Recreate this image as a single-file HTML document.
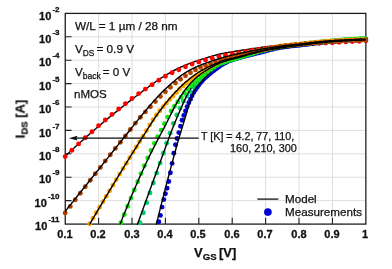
<!DOCTYPE html>
<html><head><meta charset="utf-8"><title>IDS-VGS</title><style>
html,body{margin:0;padding:0;background:#fff;}
body{width:392px;height:269px;position:relative;overflow:hidden;font-family:"Liberation Sans",sans-serif;color:#111;}
.t{position:absolute;white-space:nowrap;line-height:1;will-change:transform;-webkit-text-stroke:0.25px #111;}
.yt{-webkit-text-stroke:0.3px #111;font-weight:bold;font-size:11px;text-align:right;width:59.5px;left:0;}
.yt sup{font-size:8px;margin-left:1.1px;position:relative;top:-8.1px;vertical-align:baseline;line-height:0;}
.xt{-webkit-text-stroke:0.3px #111;font-weight:bold;font-size:11px;width:40px;text-align:center;top:229px;margin-left:-0.5px;}
.an{font-size:11.75px;left:74.5px;}
sub.s{font-size:8.3px;margin-right:-1.2px;position:relative;top:2.8px;vertical-align:baseline;line-height:0;}
</style></head><body>
<svg width="392" height="269" viewBox="0 0 392 269" style="position:absolute;left:0;top:0">
<defs><clipPath id="c"><rect x="65.0" y="13.4" width="301.2" height="211.1"/></clipPath><clipPath id="chi"><rect x="65.2" y="13.4" width="300.6" height="85.6"/></clipPath><clipPath id="clo"><rect x="65.2" y="99" width="300.6" height="125.7"/></clipPath></defs>
<path d="M98.6,13.4V224.05M132.0,13.4V224.05M165.4,13.4V224.05M198.8,13.4V224.05M232.2,13.4V224.05M265.6,13.4V224.05M299.0,13.4V224.05M332.4,13.4V224.05M65.25,36.8H365.8M65.25,60.2H365.8M65.25,83.6H365.8M65.25,107.0H365.8M65.25,130.4H365.8M65.25,153.8H365.8M65.25,177.2H365.8M65.25,200.6H365.8" stroke="#dedede" stroke-width="1" fill="none"/>
<path d="M98.6,224.05v-6.3M132.0,224.05v-6.3M165.4,224.05v-6.3M198.8,224.05v-6.3M232.2,224.05v-6.3M265.6,224.05v-6.3M299.0,224.05v-6.3M332.4,224.05v-6.3M65.25,36.8h6.3M65.25,60.2h6.3M65.25,83.6h6.3M65.25,107.0h6.3M65.25,130.4h6.3M65.25,153.8h6.3M65.25,177.2h6.3M65.25,200.6h6.3" stroke="#222" stroke-width="1.1" fill="none"/>
<rect x="65.25" y="13.4" width="300.6" height="210.7" fill="none" stroke="#1e1e1e" stroke-width="1.3"/>
<g fill="none" stroke="#000" stroke-width="1.4" stroke-linejoin="round">
<path d="M64.0,157.4 65.0,156.5 66.0,155.5 67.0,154.6 68.0,153.6 69.0,152.7 70.0,151.8 71.0,150.8 72.0,149.9 73.0,149.0 74.0,148.1 75.0,147.1 76.0,146.2 77.0,145.3 78.0,144.4 79.0,143.5 80.0,142.6 81.0,141.7 82.0,140.8 83.0,139.9 84.0,139.0 85.0,138.1 86.0,137.2 87.0,136.3 88.0,135.4 89.0,134.6 90.0,133.7 91.0,132.8 92.0,131.9 93.0,131.1 94.0,130.2 95.0,129.3 96.0,128.5 97.0,127.6 98.0,126.8 99.0,125.9 100.0,125.1 101.0,124.2 102.0,123.4 103.0,122.5 104.0,121.7 105.0,120.9 106.0,120.0 107.0,119.2 108.0,118.4 109.0,117.6 110.0,116.8 111.0,115.9 112.0,115.1 113.0,114.3 114.0,113.5 115.0,112.7 116.0,111.9 117.0,111.1 118.0,110.3 119.0,109.5 120.0,108.7 121.0,107.9 122.0,107.1 123.0,106.3 124.0,105.6 125.0,104.8 126.0,104.0 127.0,103.2 128.0,102.4 129.0,101.6 130.0,100.9 131.0,100.1 132.0,99.3 133.0,98.5 134.0,97.8 135.0,97.0 136.0,96.2 137.0,95.5 138.0,94.7 139.0,93.9 140.0,93.2 141.0,92.4 142.0,91.7 143.0,90.9 144.0,90.2 145.0,89.5 146.0,88.7 147.0,88.0 148.0,87.3 149.0,86.6 150.0,85.8 151.0,85.1 152.0,84.4 153.0,83.7 154.0,83.0 155.0,82.2 156.0,81.5 157.0,80.8 158.0,80.2 159.0,79.5 160.0,78.8 161.0,78.1 162.0,77.5 163.0,76.9 164.0,76.2 165.0,75.6 166.0,75.0 167.0,74.4 168.0,73.9 169.0,73.3 170.0,72.7 171.0,72.1 172.0,71.6 173.0,71.0 174.0,70.5 175.0,70.0 176.0,69.5 177.0,69.0 178.0,68.5 179.0,68.0 180.0,67.5 181.0,67.0 182.0,66.6 183.0,66.2 184.0,65.7 185.0,65.3 186.0,64.9 187.0,64.5 188.0,64.1 189.0,63.7 190.0,63.3 191.0,63.0 192.0,62.6 193.0,62.2 194.0,61.9 195.0,61.5 196.0,61.2 197.0,60.9 198.0,60.5 199.0,60.2 200.0,59.9 201.0,59.5 202.0,59.2 203.0,58.9 204.0,58.6 205.0,58.3 206.0,57.9 207.0,57.6 208.0,57.3 209.0,57.0 210.0,56.7 211.0,56.4 212.0,56.1 213.0,55.8 214.0,55.6 215.0,55.3 216.0,55.0 217.0,54.8 218.0,54.5 219.0,54.3 220.0,54.0 221.0,53.8 222.0,53.6 223.0,53.4 224.0,53.2 225.0,53.0 226.0,52.8 227.0,52.6 228.0,52.5 229.0,52.3 230.0,52.1 231.0,52.0 232.0,51.8 233.0,51.6 234.0,51.5 235.0,51.3 236.0,51.2 237.0,51.0 238.0,50.8 239.0,50.7 240.0,50.5 241.0,50.4 242.0,50.2 243.0,50.0 244.0,49.9 245.0,49.7 246.0,49.6 247.0,49.4 248.0,49.3 249.0,49.1 250.0,49.0 251.0,48.8 252.0,48.7 253.0,48.5 254.0,48.4 255.0,48.3 256.0,48.1 257.0,48.0 258.0,47.8 259.0,47.7 260.0,47.6 261.0,47.4 262.0,47.3 263.0,47.2 264.0,47.0 265.0,46.9 266.0,46.8 267.0,46.7 268.0,46.5 269.0,46.4 270.0,46.3 271.0,46.2 272.0,46.1 273.0,45.9 274.0,45.8 275.0,45.7 276.0,45.6 277.0,45.5 278.0,45.4 279.0,45.3 280.0,45.2 281.0,45.1 282.0,45.0 283.0,44.9 284.0,44.8 285.0,44.7 286.0,44.6 287.0,44.5 288.0,44.4 289.0,44.3 290.0,44.2 291.0,44.1 292.0,44.0 293.0,43.9 294.0,43.8 295.0,43.7 296.0,43.6 297.0,43.5 298.0,43.4 299.0,43.3 300.0,43.2 301.0,43.1 302.0,43.0 303.0,42.9 304.0,42.8 305.0,42.7 306.0,42.6 307.0,42.5 308.0,42.4 309.0,42.3 310.0,42.2 311.0,42.1 312.0,42.0 313.0,41.9 314.0,41.8 315.0,41.7 316.0,41.5 317.0,41.4 318.0,41.3 319.0,41.2 320.0,41.1 321.0,41.1 322.0,41.0 323.0,40.9 324.0,40.8 325.0,40.7 326.0,40.6 327.0,40.5 328.0,40.5 329.0,40.4 330.0,40.3 331.0,40.2 332.0,40.2 333.0,40.1 334.0,40.1 335.0,40.0 336.0,39.9 337.0,39.9 338.0,39.8 339.0,39.8 340.0,39.7 341.0,39.7 342.0,39.6 343.0,39.6 344.0,39.5 345.0,39.5 346.0,39.5 347.0,39.4 348.0,39.4 349.0,39.3 350.0,39.3 351.0,39.2 352.0,39.2 353.0,39.1 354.0,39.1 355.0,39.0 356.0,39.0 357.0,39.0 358.0,38.9 359.0,38.9 360.0,38.8 361.0,38.8 362.0,38.7 363.0,38.7 364.0,38.7 365.0,38.6" clip-path="url(#c)"/>
<g fill="#ff0000" stroke="none"><circle cx="65.2" cy="156.6" r="2.45"/><circle cx="71.9" cy="150.2" r="2.45"/><circle cx="78.6" cy="143.9" r="2.45"/><circle cx="85.3" cy="137.7" r="2.45"/><circle cx="92.0" cy="131.7" r="2.45"/><circle cx="98.6" cy="125.8" r="2.45"/><circle cx="105.3" cy="120.0" r="2.45"/><circle cx="112.0" cy="114.4" r="2.45"/><circle cx="118.7" cy="109.0" r="2.45"/><circle cx="125.4" cy="103.7" r="2.45"/><circle cx="132.0" cy="98.5" r="2.45"/><circle cx="138.7" cy="93.6" r="2.45"/><circle cx="145.4" cy="89.1" r="2.45"/><circle cx="152.1" cy="84.8" r="2.45"/><circle cx="158.8" cy="80.3" r="2.45"/><circle cx="165.4" cy="76.2" r="2.45"/><circle cx="172.1" cy="72.7" r="2.45"/><circle cx="178.8" cy="69.7" r="2.45"/><circle cx="185.5" cy="66.8" r="2.45"/><circle cx="192.1" cy="64.1" r="2.45"/><circle cx="198.8" cy="61.9" r="2.45"/><circle cx="205.5" cy="59.9" r="2.45"/><circle cx="212.2" cy="58.2" r="2.45"/><circle cx="218.9" cy="56.6" r="2.45"/><circle cx="225.5" cy="55.1" r="2.45"/><circle cx="232.2" cy="53.8" r="2.45"/><circle cx="238.9" cy="52.6" r="2.45"/><circle cx="245.6" cy="51.4" r="2.45"/><circle cx="252.3" cy="50.3" r="2.45"/><circle cx="258.9" cy="49.3" r="2.45"/><circle cx="265.6" cy="48.4" r="2.45"/><circle cx="272.3" cy="47.5" r="2.45"/><circle cx="279.0" cy="46.7" r="2.45"/><circle cx="285.7" cy="45.9" r="2.45"/><circle cx="292.3" cy="45.1" r="2.45"/><circle cx="299.0" cy="44.5" r="2.45"/><circle cx="305.7" cy="44.0" r="2.45"/><circle cx="312.4" cy="43.7" r="2.45"/><circle cx="319.0" cy="43.4" r="2.45"/><circle cx="325.7" cy="43.0" r="2.45"/><circle cx="332.4" cy="42.7" r="2.45"/><circle cx="339.1" cy="42.3" r="2.45"/><circle cx="345.8" cy="41.9" r="2.45"/><circle cx="352.4" cy="41.6" r="2.45"/><circle cx="359.1" cy="41.2" r="2.45"/><circle cx="365.8" cy="40.8" r="2.45"/></g>
<g fill="#0000d2" stroke="none"><circle cx="158.8" cy="221.7" r="2.45"/><circle cx="160.4" cy="215.4" r="2.45"/><circle cx="162.1" cy="207.1" r="2.45"/><circle cx="163.8" cy="199.6" r="2.45"/><circle cx="165.4" cy="193.7" r="2.45"/><circle cx="167.1" cy="188.2" r="2.45"/><circle cx="168.8" cy="181.5" r="2.45"/><circle cx="170.4" cy="172.8" r="2.45"/><circle cx="172.1" cy="163.4" r="2.45"/><circle cx="173.8" cy="153.3" r="2.45"/><circle cx="175.5" cy="144.7" r="2.45"/><circle cx="177.1" cy="138.5" r="2.45"/><circle cx="178.8" cy="132.6" r="2.45"/><circle cx="180.5" cy="126.2" r="2.45"/><circle cx="182.1" cy="120.3" r="2.45"/><circle cx="183.8" cy="115.4" r="2.45"/><circle cx="185.5" cy="111.0" r="2.45"/><circle cx="187.1" cy="106.8" r="2.45"/><circle cx="188.8" cy="102.8" r="2.45"/><circle cx="190.5" cy="99.2" r="2.45"/><circle cx="192.1" cy="95.8" r="2.45"/><circle cx="193.8" cy="92.6" r="2.45"/><circle cx="195.5" cy="89.8" r="2.45"/><circle cx="197.2" cy="87.3" r="2.45"/><circle cx="198.8" cy="84.9" r="2.45"/><circle cx="200.5" cy="82.8" r="2.45"/><circle cx="202.2" cy="80.9" r="2.45"/><circle cx="203.8" cy="79.1" r="2.45"/><circle cx="205.5" cy="77.5" r="2.45"/><circle cx="207.2" cy="76.0" r="2.45"/><circle cx="208.8" cy="74.6" r="2.45"/><circle cx="210.5" cy="73.2" r="2.45"/><circle cx="212.2" cy="71.8" r="2.45"/><circle cx="213.9" cy="70.5" r="2.45"/><circle cx="215.5" cy="69.3" r="2.45"/><circle cx="217.2" cy="68.0" r="2.45"/><circle cx="218.9" cy="66.8" r="2.45"/><circle cx="220.5" cy="65.6" r="2.45"/><circle cx="222.2" cy="64.5" r="2.45"/><circle cx="223.9" cy="63.6" r="2.45"/><circle cx="225.5" cy="62.7" r="2.45"/><circle cx="227.2" cy="61.9" r="2.45"/><circle cx="228.9" cy="61.1" r="2.45"/><circle cx="230.6" cy="60.5" r="2.45"/><circle cx="232.2" cy="59.9" r="2.45"/><circle cx="233.9" cy="59.3" r="2.45"/><circle cx="235.6" cy="58.8" r="2.45"/><circle cx="237.2" cy="58.3" r="2.45"/><circle cx="238.9" cy="57.9" r="2.45"/><circle cx="240.6" cy="57.4" r="2.45"/><circle cx="242.2" cy="56.9" r="2.45"/><circle cx="243.9" cy="56.5" r="2.45"/><circle cx="245.6" cy="56.0" r="2.45"/><circle cx="247.2" cy="55.6" r="2.45"/><circle cx="248.9" cy="55.2" r="2.45"/><circle cx="250.6" cy="54.8" r="2.45"/><circle cx="252.3" cy="54.4" r="2.45"/><circle cx="253.9" cy="53.9" r="2.45"/><circle cx="255.6" cy="53.5" r="2.45"/><circle cx="257.3" cy="53.1" r="2.45"/><circle cx="258.9" cy="52.7" r="2.45"/><circle cx="260.6" cy="52.3" r="2.45"/><circle cx="262.3" cy="51.9" r="2.45"/><circle cx="263.9" cy="51.5" r="2.45"/><circle cx="265.6" cy="51.0" r="2.45"/><circle cx="267.3" cy="50.6" r="2.45"/><circle cx="269.0" cy="50.1" r="2.45"/><circle cx="270.6" cy="49.6" r="2.45"/><circle cx="272.3" cy="49.2" r="2.45"/><circle cx="274.0" cy="48.8" r="2.45"/><circle cx="275.6" cy="48.4" r="2.45"/><circle cx="277.3" cy="48.0" r="2.45"/><circle cx="279.0" cy="47.7" r="2.45"/><circle cx="280.6" cy="47.4" r="2.45"/><circle cx="282.3" cy="47.2" r="2.45"/><circle cx="284.0" cy="46.9" r="2.45"/><circle cx="285.7" cy="46.7" r="2.45"/><circle cx="287.3" cy="46.5" r="2.45"/><circle cx="289.0" cy="46.3" r="2.45"/><circle cx="290.7" cy="46.1" r="2.45"/><circle cx="292.3" cy="45.9" r="2.45"/><circle cx="294.0" cy="45.8" r="2.45"/><circle cx="295.7" cy="45.6" r="2.45"/><circle cx="297.3" cy="45.4" r="2.45"/><circle cx="299.0" cy="45.2" r="2.45"/><circle cx="300.7" cy="45.0" r="2.45"/><circle cx="302.4" cy="44.8" r="2.45"/><circle cx="304.0" cy="44.6" r="2.45"/><circle cx="305.7" cy="44.4" r="2.45"/><circle cx="307.4" cy="44.2" r="2.45"/><circle cx="309.0" cy="44.0" r="2.45"/><circle cx="310.7" cy="43.7" r="2.45"/><circle cx="312.4" cy="43.5" r="2.45"/><circle cx="314.0" cy="43.3" r="2.45"/><circle cx="315.7" cy="43.1" r="2.45"/><circle cx="317.4" cy="42.9" r="2.45"/><circle cx="319.0" cy="42.7" r="2.45"/><circle cx="320.7" cy="42.5" r="2.45"/><circle cx="322.4" cy="42.3" r="2.45"/><circle cx="324.1" cy="42.1" r="2.45"/><circle cx="325.7" cy="41.9" r="2.45"/><circle cx="327.4" cy="41.7" r="2.45"/><circle cx="329.1" cy="41.6" r="2.45"/><circle cx="330.7" cy="41.4" r="2.45"/><circle cx="332.4" cy="41.3" r="2.45"/><circle cx="334.1" cy="41.2" r="2.45"/><circle cx="335.7" cy="41.0" r="2.45"/><circle cx="337.4" cy="40.9" r="2.45"/><circle cx="339.1" cy="40.8" r="2.45"/><circle cx="340.8" cy="40.7" r="2.45"/><circle cx="342.4" cy="40.6" r="2.45"/><circle cx="344.1" cy="40.5" r="2.45"/><circle cx="345.8" cy="40.3" r="2.45"/><circle cx="347.4" cy="40.2" r="2.45"/><circle cx="349.1" cy="40.1" r="2.45"/><circle cx="350.8" cy="40.0" r="2.45"/><circle cx="352.4" cy="39.9" r="2.45"/><circle cx="354.1" cy="39.8" r="2.45"/><circle cx="355.8" cy="39.7" r="2.45"/><circle cx="357.5" cy="39.6" r="2.45"/><circle cx="359.1" cy="39.5" r="2.45"/><circle cx="360.8" cy="39.4" r="2.45"/><circle cx="362.5" cy="39.3" r="2.45"/><circle cx="364.1" cy="39.2" r="2.45"/><circle cx="365.8" cy="39.1" r="2.45"/></g>
<g fill="#00d26e" stroke="none"><circle cx="140.0" cy="222.7" r="2.45"/><circle cx="143.4" cy="212.8" r="2.45"/><circle cx="146.7" cy="202.8" r="2.45"/><circle cx="150.0" cy="192.9" r="2.45"/><circle cx="153.4" cy="183.0" r="2.45"/><circle cx="156.7" cy="173.1" r="2.45"/><circle cx="160.1" cy="163.1" r="2.45"/><circle cx="163.4" cy="153.2" r="2.45"/><circle cx="166.7" cy="143.3" r="2.45"/><circle cx="170.1" cy="133.3" r="2.45"/><circle cx="173.4" cy="123.5" r="2.45"/><circle cx="176.8" cy="115.0" r="2.45"/><circle cx="180.1" cy="108.1" r="2.45"/><circle cx="183.4" cy="101.2" r="2.45"/><circle cx="186.8" cy="96.0" r="2.45"/><circle cx="190.1" cy="91.5" r="2.45"/><circle cx="193.4" cy="87.1" r="2.45"/><circle cx="196.8" cy="83.7" r="2.45"/><circle cx="200.1" cy="80.2" r="2.45"/><circle cx="203.5" cy="77.0" r="2.45"/><circle cx="206.8" cy="73.6" r="2.45"/><circle cx="210.1" cy="70.5" r="2.45"/><circle cx="213.5" cy="67.8" r="2.45"/><circle cx="216.8" cy="65.5" r="2.45"/><circle cx="220.2" cy="63.8" r="2.45"/><circle cx="223.5" cy="62.5" r="2.45"/><circle cx="226.8" cy="61.4" r="2.45"/><circle cx="230.2" cy="60.3" r="2.45"/><circle cx="233.5" cy="59.3" r="2.45"/><circle cx="236.9" cy="58.3" r="2.45"/><circle cx="240.2" cy="57.3" r="2.45"/><circle cx="243.5" cy="56.3" r="2.45"/><circle cx="246.9" cy="55.2" r="2.45"/><circle cx="250.2" cy="54.2" r="2.45"/><circle cx="253.6" cy="53.2" r="2.45"/><circle cx="256.9" cy="52.2" r="2.45"/><circle cx="260.2" cy="51.3" r="2.45"/><circle cx="263.6" cy="50.5" r="2.45"/><circle cx="266.9" cy="49.7" r="2.45"/><circle cx="270.3" cy="48.9" r="2.45"/><circle cx="273.6" cy="48.2" r="2.45"/><circle cx="276.9" cy="47.5" r="2.45"/><circle cx="280.3" cy="47.0" r="2.45"/><circle cx="283.6" cy="46.4" r="2.45"/><circle cx="287.0" cy="46.0" r="2.45"/><circle cx="290.3" cy="45.6" r="2.45"/><circle cx="293.6" cy="45.1" r="2.45"/><circle cx="297.0" cy="44.8" r="2.45"/><circle cx="300.3" cy="44.4" r="2.45"/><circle cx="303.7" cy="44.0" r="2.45"/><circle cx="307.0" cy="43.6" r="2.45"/><circle cx="310.3" cy="43.2" r="2.45"/><circle cx="313.7" cy="42.9" r="2.45"/><circle cx="317.0" cy="42.5" r="2.45"/><circle cx="320.3" cy="42.2" r="2.45"/><circle cx="323.7" cy="41.8" r="2.45"/><circle cx="327.0" cy="41.5" r="2.45"/><circle cx="330.4" cy="41.2" r="2.45"/><circle cx="333.7" cy="40.9" r="2.45"/><circle cx="337.0" cy="40.5" r="2.45"/><circle cx="340.4" cy="40.3" r="2.45"/><circle cx="343.7" cy="40.0" r="2.45"/><circle cx="347.1" cy="39.8" r="2.45"/><circle cx="350.4" cy="39.5" r="2.45"/><circle cx="353.7" cy="39.3" r="2.45"/><circle cx="357.1" cy="39.1" r="2.45"/><circle cx="360.4" cy="38.9" r="2.45"/><circle cx="363.8" cy="38.7" r="2.45"/></g>
<path d="M155.0,229.8 156.0,225.7 157.0,221.7 158.0,217.6 159.0,213.6 160.0,209.7 161.0,205.7 162.0,201.7 163.0,197.8 164.0,193.9 165.0,190.1 166.0,186.2 167.0,182.4 168.0,178.5 169.0,174.7 170.0,170.9 171.0,167.1 172.0,163.4 173.0,159.6 174.0,155.9 175.0,152.2 176.0,148.5 177.0,144.9 178.0,141.4 179.0,138.0 180.0,134.6 181.0,131.4 182.0,128.1 183.0,124.9 184.0,121.6 185.0,118.2 186.0,114.8 187.0,111.4 188.0,108.1 189.0,104.9 190.0,101.8 191.0,98.8 192.0,96.0 193.0,93.5 194.0,91.3 195.0,89.5 196.0,87.9 197.0,86.6 198.0,85.4 199.0,84.3 200.0,83.3 201.0,82.1 202.0,81.0 203.0,79.9 204.0,78.8 205.0,77.7 206.0,76.6 207.0,75.6 208.0,74.5 209.0,73.6 210.0,72.6 211.0,71.7 212.0,70.7 213.0,69.8 214.0,69.0 215.0,68.1 216.0,67.4 217.0,66.7 218.0,66.0 219.0,65.4 220.0,64.9 221.0,64.4 222.0,63.9 223.0,63.4 224.0,63.0 225.0,62.6 226.0,62.3 227.0,61.9 228.0,61.6 229.0,61.3 230.0,61.0 231.0,60.8 232.0,60.5 233.0,60.3 234.0,60.0 235.0,59.7 236.0,59.5 237.0,59.2 238.0,58.9 239.0,58.6 240.0,58.3 241.0,58.0 242.0,57.7 243.0,57.4 244.0,57.1 245.0,56.8 246.0,56.5 247.0,56.2 248.0,55.9 249.0,55.6 250.0,55.3 251.0,55.0 252.0,54.7 253.0,54.4 254.0,54.1 255.0,53.8 256.0,53.5 257.0,53.2 258.0,53.0 259.0,52.7 260.0,52.5 261.0,52.2 262.0,52.0 263.0,51.8 264.0,51.6 265.0,51.4 266.0,51.1 267.0,50.9 268.0,50.7 269.0,50.5 270.0,50.3 271.0,50.1 272.0,50.0 273.0,49.8 274.0,49.6 275.0,49.4 276.0,49.2 277.0,49.1 278.0,48.9 279.0,48.8 280.0,48.6 281.0,48.4 282.0,48.3 283.0,48.2 284.0,48.0 285.0,47.9 286.0,47.7 287.0,47.6 288.0,47.5 289.0,47.3 290.0,47.2 291.0,47.1 292.0,47.0 293.0,46.8 294.0,46.7 295.0,46.6 296.0,46.5 297.0,46.4 298.0,46.2 299.0,46.1 300.0,46.0 301.0,45.9 302.0,45.8 303.0,45.6 304.0,45.5 305.0,45.4 306.0,45.3 307.0,45.2 308.0,45.0 309.0,44.9 310.0,44.8 311.0,44.7 312.0,44.6 313.0,44.5 314.0,44.3 315.0,44.2 316.0,44.1 317.0,44.0 318.0,43.9 319.0,43.8 320.0,43.7 321.0,43.6 322.0,43.5 323.0,43.4 324.0,43.3 325.0,43.2 326.0,43.1 327.0,43.0 328.0,42.9 329.0,42.8 330.0,42.7 331.0,42.6 332.0,42.5 333.0,42.4 334.0,42.4 335.0,42.3 336.0,42.2 337.0,42.1 338.0,42.0 339.0,42.0 340.0,41.9 341.0,41.8 342.0,41.8 343.0,41.7 344.0,41.7 345.0,41.6 346.0,41.5 347.0,41.5 348.0,41.4 349.0,41.4 350.0,41.4 351.0,41.3 352.0,41.3 353.0,41.2 354.0,41.2 355.0,41.1 356.0,41.1 357.0,41.1 358.0,41.0 359.0,41.0 360.0,40.9 361.0,40.9 362.0,40.9 363.0,40.9 364.0,40.8 365.0,40.8" clip-path="url(#c)"/>
<path d="M136.2,227.9 137.2,225.1 138.2,222.3 139.2,219.5 140.2,216.8 141.2,214.0 142.2,211.2 143.2,208.5 144.2,205.7 145.2,202.9 146.2,200.2 147.2,197.4 148.2,194.7 149.2,191.9 150.2,189.2 151.2,186.5 152.2,183.7 153.2,181.0 154.2,178.2 155.2,175.5 156.2,172.8 157.2,170.1 158.2,167.3 159.2,164.6 160.2,161.9 161.2,159.2 162.2,156.5 163.2,153.7 164.2,150.9 165.2,148.2 166.2,145.4 167.2,142.7 168.2,139.9 169.2,137.2 170.2,134.5 171.2,131.9 172.2,129.3 173.2,126.8 174.2,124.3 175.2,121.8 176.2,119.4 177.2,117.0 178.2,114.7 179.2,112.4 180.2,110.1 181.2,107.8 182.2,105.6 183.2,103.3 184.2,101.1 185.2,98.9 186.2,96.7 187.2,94.7 188.2,92.8 189.2,91.0 190.2,89.4 191.2,87.9 192.2,86.5 193.2,85.3 194.2,84.1 195.2,83.0 196.2,82.0 197.2,80.9 198.2,80.0 199.2,79.0 200.2,78.1 201.2,77.3 202.2,76.5 203.2,75.6 204.2,74.8 205.2,74.0 206.2,73.2 207.2,72.4 208.2,71.6 209.2,70.8 210.2,70.1 211.2,69.3 212.2,68.5 213.2,67.8 214.2,67.1 215.2,66.4 216.2,65.7 217.2,65.1 218.2,64.5 219.2,64.0 220.2,63.5 221.2,63.0 222.2,62.6 223.2,62.2 224.2,61.8 225.2,61.5 226.2,61.1 227.2,60.8 228.2,60.5 229.2,60.3 230.2,60.0 231.2,59.8 232.2,59.5 233.2,59.3 234.2,59.0 235.2,58.8 236.2,58.5 237.2,58.3 238.2,58.0 239.2,57.7 240.2,57.5 241.2,57.2 242.2,56.9 243.2,56.6 244.2,56.3 245.2,56.1 246.2,55.8 247.2,55.5 248.2,55.2 249.2,54.9 250.2,54.7 251.2,54.4 252.2,54.1 253.2,53.8 254.2,53.6 255.2,53.3 256.2,53.1 257.2,52.8 258.2,52.5 259.2,52.3 260.2,52.1 261.2,51.8 262.2,51.6 263.2,51.4 264.2,51.2 265.2,51.0 266.2,50.8 267.2,50.5 268.2,50.3 269.2,50.1 270.2,49.9 271.2,49.7 272.2,49.6 273.2,49.4 274.2,49.2 275.2,49.0 276.2,48.8 277.2,48.7 278.2,48.5 279.2,48.3 280.2,48.2 281.2,48.0 282.2,47.9 283.2,47.7 284.2,47.6 285.2,47.4 286.2,47.3 287.2,47.2 288.2,47.0 289.2,46.9 290.2,46.8 291.2,46.7 292.2,46.5 293.2,46.4 294.2,46.3 295.2,46.2 296.2,46.1 297.2,45.9 298.2,45.8 299.2,45.7 300.2,45.6 301.2,45.5 302.2,45.3 303.2,45.2 304.2,45.1 305.2,45.0 306.2,44.8 307.2,44.7 308.2,44.6 309.2,44.5 310.2,44.3 311.2,44.2 312.2,44.1 313.2,44.0 314.2,43.8 315.2,43.7 316.2,43.6 317.2,43.5 318.2,43.4 319.2,43.3 320.2,43.2 321.2,43.0 322.2,42.9 323.2,42.8 324.2,42.7 325.2,42.6 326.2,42.5 327.2,42.4 328.2,42.4 329.2,42.3 330.2,42.2 331.2,42.1 332.2,42.0 333.2,41.9 334.2,41.9 335.2,41.8 336.2,41.7 337.2,41.7 338.2,41.6 339.2,41.5 340.2,41.5 341.2,41.4 342.2,41.4 343.2,41.3 344.2,41.2 345.2,41.2 346.2,41.1 347.2,41.1 348.2,41.0 349.2,41.0 350.2,40.9 351.2,40.9 352.2,40.8 353.2,40.8 354.2,40.7 355.2,40.7 356.2,40.7 357.2,40.6 358.2,40.6 359.2,40.5 360.2,40.5 361.2,40.5 362.2,40.4 363.2,40.4 364.2,40.3 365.2,40.3" clip-path="url(#c)"/>
<g fill="#14e614" stroke="none"><circle cx="121.0" cy="222.8" r="2.45"/><circle cx="124.3" cy="214.5" r="2.45"/><circle cx="127.7" cy="206.3" r="2.45"/><circle cx="131.0" cy="198.1" r="2.45"/><circle cx="134.3" cy="190.0" r="2.45"/><circle cx="137.7" cy="181.8" r="2.45"/><circle cx="141.0" cy="173.6" r="2.45"/><circle cx="144.4" cy="165.7" r="2.45"/><circle cx="147.7" cy="158.0" r="2.45"/><circle cx="151.0" cy="150.5" r="2.45"/><circle cx="154.4" cy="143.4" r="2.45"/><circle cx="157.7" cy="136.6" r="2.45"/><circle cx="161.1" cy="130.1" r="2.45"/><circle cx="164.4" cy="123.8" r="2.45"/><circle cx="167.7" cy="117.1" r="2.45"/><circle cx="171.1" cy="111.0" r="2.45"/><circle cx="174.4" cy="106.2" r="2.45"/><circle cx="177.8" cy="101.9" r="2.45"/><circle cx="181.1" cy="97.3" r="2.45"/><circle cx="184.4" cy="92.9" r="2.45"/><circle cx="187.8" cy="89.0" r="2.45"/><circle cx="191.1" cy="85.7" r="2.45"/><circle cx="194.4" cy="82.8" r="2.45"/><circle cx="197.8" cy="80.0" r="2.45"/><circle cx="201.1" cy="77.1" r="2.45"/><circle cx="204.5" cy="74.3" r="2.45"/><circle cx="207.8" cy="71.6" r="2.45"/><circle cx="211.1" cy="69.2" r="2.45"/><circle cx="214.5" cy="66.9" r="2.45"/><circle cx="217.8" cy="64.9" r="2.45"/><circle cx="221.2" cy="63.3" r="2.45"/><circle cx="224.5" cy="62.0" r="2.45"/><circle cx="227.8" cy="60.9" r="2.45"/><circle cx="231.2" cy="59.9" r="2.45"/><circle cx="234.5" cy="58.9" r="2.45"/><circle cx="237.9" cy="57.9" r="2.45"/><circle cx="241.2" cy="56.9" r="2.45"/><circle cx="244.5" cy="55.8" r="2.45"/><circle cx="247.9" cy="54.8" r="2.45"/><circle cx="251.2" cy="53.7" r="2.45"/><circle cx="254.6" cy="52.7" r="2.45"/><circle cx="257.9" cy="51.7" r="2.45"/><circle cx="261.2" cy="50.8" r="2.45"/><circle cx="264.6" cy="50.0" r="2.45"/><circle cx="267.9" cy="49.1" r="2.45"/><circle cx="271.3" cy="48.3" r="2.45"/><circle cx="274.6" cy="47.6" r="2.45"/><circle cx="277.9" cy="46.9" r="2.45"/><circle cx="281.3" cy="46.4" r="2.45"/><circle cx="284.6" cy="45.9" r="2.45"/><circle cx="288.0" cy="45.5" r="2.45"/><circle cx="291.3" cy="45.1" r="2.45"/><circle cx="294.6" cy="44.8" r="2.45"/><circle cx="298.0" cy="44.4" r="2.45"/><circle cx="301.3" cy="44.1" r="2.45"/><circle cx="304.7" cy="43.7" r="2.45"/><circle cx="308.0" cy="43.3" r="2.45"/><circle cx="311.3" cy="43.0" r="2.45"/><circle cx="314.7" cy="42.6" r="2.45"/><circle cx="318.0" cy="42.3" r="2.45"/><circle cx="321.3" cy="41.9" r="2.45"/><circle cx="324.7" cy="41.6" r="2.45"/><circle cx="328.0" cy="41.3" r="2.45"/><circle cx="331.4" cy="41.0" r="2.45"/><circle cx="334.7" cy="40.7" r="2.45"/><circle cx="338.0" cy="40.4" r="2.45"/><circle cx="341.4" cy="40.1" r="2.45"/><circle cx="344.7" cy="39.8" r="2.45"/><circle cx="348.1" cy="39.6" r="2.45"/><circle cx="351.4" cy="39.4" r="2.45"/><circle cx="354.7" cy="39.1" r="2.45"/><circle cx="358.1" cy="38.9" r="2.45"/><circle cx="361.4" cy="38.7" r="2.45"/><circle cx="364.8" cy="38.6" r="2.45"/></g>
<g fill="#ffa500" stroke="none"><circle cx="89.6" cy="223.7" r="2.45"/><circle cx="93.0" cy="218.2" r="2.45"/><circle cx="96.3" cy="212.7" r="2.45"/><circle cx="99.6" cy="207.2" r="2.45"/><circle cx="103.0" cy="201.7" r="2.45"/><circle cx="106.3" cy="196.2" r="2.45"/><circle cx="109.7" cy="190.7" r="2.45"/><circle cx="113.0" cy="185.2" r="2.45"/><circle cx="116.3" cy="179.6" r="2.45"/><circle cx="119.7" cy="174.1" r="2.45"/><circle cx="123.0" cy="168.6" r="2.45"/><circle cx="126.4" cy="163.2" r="2.45"/><circle cx="129.7" cy="157.7" r="2.45"/><circle cx="133.0" cy="152.3" r="2.45"/><circle cx="136.4" cy="147.0" r="2.45"/><circle cx="139.7" cy="141.6" r="2.45"/><circle cx="143.1" cy="136.3" r="2.45"/><circle cx="146.4" cy="130.7" r="2.45"/><circle cx="149.7" cy="125.0" r="2.45"/><circle cx="153.1" cy="119.7" r="2.45"/><circle cx="156.4" cy="114.9" r="2.45"/><circle cx="159.8" cy="110.7" r="2.45"/><circle cx="163.1" cy="106.8" r="2.45"/><circle cx="166.4" cy="103.1" r="2.45"/><circle cx="169.8" cy="99.5" r="2.45"/><circle cx="173.1" cy="96.1" r="2.45"/><circle cx="176.5" cy="92.5" r="2.45"/><circle cx="179.8" cy="89.0" r="2.45"/><circle cx="183.1" cy="85.9" r="2.45"/><circle cx="186.5" cy="83.0" r="2.45"/><circle cx="189.8" cy="80.3" r="2.45"/><circle cx="193.1" cy="77.9" r="2.45"/><circle cx="196.5" cy="75.5" r="2.45"/><circle cx="199.8" cy="73.3" r="2.45"/><circle cx="203.2" cy="71.1" r="2.45"/><circle cx="206.5" cy="69.1" r="2.45"/><circle cx="209.8" cy="67.1" r="2.45"/><circle cx="213.2" cy="65.2" r="2.45"/><circle cx="216.5" cy="63.4" r="2.45"/><circle cx="219.9" cy="61.7" r="2.45"/><circle cx="223.2" cy="60.2" r="2.45"/><circle cx="226.5" cy="58.9" r="2.45"/><circle cx="229.9" cy="57.7" r="2.45"/><circle cx="233.2" cy="56.7" r="2.45"/><circle cx="236.6" cy="55.7" r="2.45"/><circle cx="239.9" cy="54.9" r="2.45"/><circle cx="243.2" cy="54.1" r="2.45"/><circle cx="246.6" cy="53.4" r="2.45"/><circle cx="249.9" cy="52.7" r="2.45"/><circle cx="253.3" cy="52.0" r="2.45"/><circle cx="256.6" cy="51.3" r="2.45"/><circle cx="259.9" cy="50.6" r="2.45"/><circle cx="263.3" cy="49.9" r="2.45"/><circle cx="266.6" cy="49.1" r="2.45"/><circle cx="270.0" cy="48.3" r="2.45"/><circle cx="273.3" cy="47.6" r="2.45"/><circle cx="276.6" cy="46.9" r="2.45"/><circle cx="280.0" cy="46.3" r="2.45"/><circle cx="283.3" cy="45.8" r="2.45"/><circle cx="286.7" cy="45.5" r="2.45"/><circle cx="290.0" cy="45.1" r="2.45"/><circle cx="293.3" cy="44.8" r="2.45"/><circle cx="296.7" cy="44.4" r="2.45"/><circle cx="300.0" cy="44.1" r="2.45"/><circle cx="303.4" cy="43.7" r="2.45"/><circle cx="306.7" cy="43.4" r="2.45"/><circle cx="310.0" cy="43.0" r="2.45"/><circle cx="313.4" cy="42.6" r="2.45"/><circle cx="316.7" cy="42.3" r="2.45"/><circle cx="320.0" cy="41.9" r="2.45"/><circle cx="323.4" cy="41.6" r="2.45"/><circle cx="326.7" cy="41.3" r="2.45"/><circle cx="330.1" cy="41.1" r="2.45"/><circle cx="333.4" cy="40.9" r="2.45"/><circle cx="336.7" cy="40.7" r="2.45"/><circle cx="340.1" cy="40.5" r="2.45"/><circle cx="343.4" cy="40.4" r="2.45"/><circle cx="346.8" cy="40.2" r="2.45"/><circle cx="350.1" cy="40.0" r="2.45"/><circle cx="353.4" cy="39.9" r="2.45"/><circle cx="356.8" cy="39.7" r="2.45"/><circle cx="360.1" cy="39.6" r="2.45"/><circle cx="363.5" cy="39.4" r="2.45"/></g>
<g fill="#b04000" stroke="none"><circle cx="65.2" cy="213.0" r="2.45"/><circle cx="70.3" cy="206.4" r="2.45"/><circle cx="75.3" cy="199.8" r="2.45"/><circle cx="80.3" cy="193.2" r="2.45"/><circle cx="85.3" cy="186.7" r="2.45"/><circle cx="90.3" cy="180.2" r="2.45"/><circle cx="95.3" cy="173.8" r="2.45"/><circle cx="100.3" cy="167.4" r="2.45"/><circle cx="105.3" cy="161.0" r="2.45"/><circle cx="110.3" cy="154.7" r="2.45"/><circle cx="115.3" cy="148.4" r="2.45"/><circle cx="120.4" cy="142.2" r="2.45"/><circle cx="125.4" cy="135.9" r="2.45"/><circle cx="130.4" cy="129.5" r="2.45"/><circle cx="135.4" cy="123.1" r="2.45"/><circle cx="140.4" cy="117.2" r="2.45"/><circle cx="145.4" cy="111.9" r="2.45"/><circle cx="150.4" cy="106.8" r="2.45"/><circle cx="155.4" cy="101.6" r="2.45"/><circle cx="160.4" cy="96.5" r="2.45"/><circle cx="165.4" cy="91.7" r="2.45"/><circle cx="170.4" cy="87.3" r="2.45"/><circle cx="175.5" cy="83.1" r="2.45"/><circle cx="180.5" cy="79.2" r="2.45"/><circle cx="185.5" cy="75.8" r="2.45"/><circle cx="190.5" cy="72.8" r="2.45"/><circle cx="195.5" cy="69.9" r="2.45"/><circle cx="200.5" cy="67.4" r="2.45"/><circle cx="205.5" cy="65.4" r="2.45"/><circle cx="210.5" cy="63.6" r="2.45"/><circle cx="215.5" cy="61.8" r="2.45"/><circle cx="220.5" cy="59.9" r="2.45"/><circle cx="225.5" cy="58.2" r="2.45"/><circle cx="230.6" cy="56.8" r="2.45"/><circle cx="235.6" cy="55.6" r="2.45"/><circle cx="240.6" cy="54.5" r="2.45"/><circle cx="245.6" cy="53.4" r="2.45"/><circle cx="250.6" cy="52.3" r="2.45"/><circle cx="255.6" cy="51.3" r="2.45"/><circle cx="260.6" cy="50.3" r="2.45"/><circle cx="265.6" cy="49.2" r="2.45"/><circle cx="270.6" cy="48.1" r="2.45"/><circle cx="275.6" cy="47.1" r="2.45"/><circle cx="280.6" cy="46.3" r="2.45"/><circle cx="285.7" cy="45.7" r="2.45"/><circle cx="290.7" cy="45.2" r="2.45"/><circle cx="295.7" cy="44.7" r="2.45"/><circle cx="300.7" cy="44.2" r="2.45"/><circle cx="305.7" cy="43.8" r="2.45"/><circle cx="310.7" cy="43.4" r="2.45"/><circle cx="315.7" cy="43.0" r="2.45"/><circle cx="320.7" cy="42.6" r="2.45"/><circle cx="325.7" cy="42.2" r="2.45"/><circle cx="330.7" cy="41.9" r="2.45"/><circle cx="335.7" cy="41.5" r="2.45"/><circle cx="340.8" cy="41.2" r="2.45"/><circle cx="345.8" cy="41.0" r="2.45"/><circle cx="350.8" cy="40.7" r="2.45"/><circle cx="355.8" cy="40.5" r="2.45"/><circle cx="360.8" cy="40.2" r="2.45"/><circle cx="365.8" cy="40.0" r="2.45"/></g>
<path d="M118.8,227.6 119.8,225.0 120.8,222.4 121.8,219.9 122.8,217.3 123.8,214.8 124.8,212.3 125.8,209.9 126.8,207.4 127.8,204.9 128.8,202.5 129.8,200.1 130.8,197.7 131.8,195.3 132.8,193.0 133.8,190.6 134.8,188.3 135.8,186.0 136.8,183.7 137.8,181.4 138.8,179.1 139.8,176.9 140.8,174.7 141.8,172.5 142.8,170.3 143.8,168.1 144.8,165.9 145.8,163.8 146.8,161.6 147.8,159.5 148.8,157.4 149.8,155.4 150.8,153.4 151.8,151.4 152.8,149.4 153.8,147.4 154.8,145.5 155.8,143.5 156.8,141.6 157.8,139.7 158.8,137.8 159.8,135.9 160.8,134.0 161.8,132.1 162.8,130.2 163.8,128.3 164.8,126.4 165.8,124.4 166.8,122.5 167.8,120.5 168.8,118.5 169.8,116.5 170.8,114.4 171.8,112.4 172.8,110.4 173.8,108.4 174.8,106.5 175.8,104.7 176.8,102.9 177.8,101.1 178.8,99.4 179.8,97.8 180.8,96.2 181.8,94.7 182.8,93.2 183.8,91.7 184.8,90.3 185.8,89.0 186.8,87.7 187.8,86.4 188.8,85.3 189.8,84.1 190.8,83.1 191.8,82.0 192.8,81.0 193.8,80.0 194.8,79.1 195.8,78.1 196.8,77.2 197.8,76.4 198.8,75.6 199.8,74.8 200.8,74.0 201.8,73.3 202.8,72.6 203.8,72.0 204.8,71.3 205.8,70.7 206.8,70.1 207.8,69.5 208.8,68.9 209.8,68.3 210.8,67.7 211.8,67.2 212.8,66.6 213.8,66.0 214.8,65.5 215.8,64.9 216.8,64.4 217.8,64.0 218.8,63.5 219.8,63.1 220.8,62.7 221.8,62.3 222.8,61.9 223.8,61.6 224.8,61.3 225.8,61.0 226.8,60.7 227.8,60.4 228.8,60.1 229.8,59.8 230.8,59.6 231.8,59.3 232.8,59.1 233.8,58.8 234.8,58.6 235.8,58.3 236.8,58.1 237.8,57.8 238.8,57.5 239.8,57.2 240.8,57.0 241.8,56.7 242.8,56.4 243.8,56.1 244.8,55.8 245.8,55.5 246.8,55.2 247.8,54.9 248.8,54.6 249.8,54.4 250.8,54.1 251.8,53.8 252.8,53.5 253.8,53.2 254.8,53.0 255.8,52.7 256.8,52.5 257.8,52.2 258.8,52.0 259.8,51.7 260.8,51.5 261.8,51.3 262.8,51.0 263.8,50.8 264.8,50.6 265.8,50.4 266.8,50.2 267.8,50.0 268.8,49.8 269.8,49.6 270.8,49.5 271.8,49.3 272.8,49.1 273.8,48.9 274.8,48.8 275.8,48.6 276.8,48.4 277.8,48.3 278.8,48.1 279.8,47.9 280.8,47.8 281.8,47.6 282.8,47.5 283.8,47.3 284.8,47.2 285.8,47.0 286.8,46.9 287.8,46.8 288.8,46.6 289.8,46.5 290.8,46.4 291.8,46.2 292.8,46.1 293.8,46.0 294.8,45.8 295.8,45.7 296.8,45.6 297.8,45.5 298.8,45.3 299.8,45.2 300.8,45.1 301.8,45.0 302.8,44.9 303.8,44.7 304.8,44.6 305.8,44.5 306.8,44.3 307.8,44.2 308.8,44.1 309.8,44.0 310.8,43.9 311.8,43.7 312.8,43.6 313.8,43.5 314.8,43.4 315.8,43.2 316.8,43.1 317.8,43.0 318.8,42.9 319.8,42.8 320.8,42.7 321.8,42.6 322.8,42.5 323.8,42.4 324.8,42.3 325.8,42.2 326.8,42.1 327.8,42.0 328.8,41.9 329.8,41.8 330.8,41.7 331.8,41.7 332.8,41.6 333.8,41.5 334.8,41.4 335.8,41.4 336.8,41.3 337.8,41.2 338.8,41.2 339.8,41.1 340.8,41.0 341.8,41.0 342.8,40.9 343.8,40.9 344.8,40.8 345.8,40.8 346.8,40.7 347.8,40.7 348.8,40.6 349.8,40.6 350.8,40.5 351.8,40.5 352.8,40.4 353.8,40.4 354.8,40.3 355.8,40.3 356.8,40.2 357.8,40.2 358.8,40.1 359.8,40.1 360.8,40.1 361.8,40.0 362.8,40.0 363.8,40.0 364.8,39.9 365.8,39.9" clip-path="url(#c)"/>
<path d="M88.5,226.3 89.5,224.6 90.5,222.8 91.5,221.1 92.5,219.4 93.5,217.7 94.5,216.0 95.5,214.3 96.5,212.6 97.5,210.9 98.5,209.2 99.5,207.5 100.5,205.8 101.5,204.1 102.5,202.4 103.5,200.8 104.5,199.1 105.5,197.4 106.5,195.7 107.5,194.1 108.5,192.4 109.5,190.7 110.5,189.1 111.5,187.4 112.5,185.7 113.5,184.1 114.5,182.4 115.5,180.8 116.5,179.1 117.5,177.5 118.5,175.8 119.5,174.2 120.5,172.6 121.5,170.9 122.5,169.3 123.5,167.7 124.5,166.0 125.5,164.4 126.5,162.8 127.5,161.1 128.5,159.5 129.5,157.9 130.5,156.3 131.5,154.7 132.5,153.1 133.5,151.5 134.5,149.9 135.5,148.3 136.5,146.7 137.5,145.1 138.5,143.5 139.5,141.9 140.5,140.3 141.5,138.8 142.5,137.2 143.5,135.6 144.5,134.1 145.5,132.5 146.5,130.9 147.5,129.3 148.5,127.7 149.5,126.1 150.5,124.6 151.5,123.0 152.5,121.5 153.5,119.9 154.5,118.4 155.5,116.9 156.5,115.5 157.5,114.1 158.5,112.7 159.5,111.3 160.5,110.0 161.5,108.7 162.5,107.4 163.5,106.1 164.5,104.8 165.5,103.5 166.5,102.3 167.5,101.1 168.5,99.9 169.5,98.7 170.5,97.5 171.5,96.4 172.5,95.3 173.5,94.1 174.5,93.0 175.5,92.0 176.5,90.9 177.5,89.9 178.5,88.8 179.5,87.8 180.5,86.8 181.5,85.9 182.5,84.9 183.5,84.0 184.5,83.1 185.5,82.2 186.5,81.4 187.5,80.5 188.5,79.7 189.5,78.9 190.5,78.1 191.5,77.3 192.5,76.6 193.5,75.8 194.5,75.1 195.5,74.4 196.5,73.7 197.5,73.0 198.5,72.3 199.5,71.7 200.5,71.1 201.5,70.5 202.5,70.0 203.5,69.5 204.5,68.9 205.5,68.4 206.5,67.9 207.5,67.4 208.5,66.9 209.5,66.4 210.5,66.0 211.5,65.5 212.5,65.0 213.5,64.6 214.5,64.2 215.5,63.7 216.5,63.3 217.5,62.9 218.5,62.5 219.5,62.1 220.5,61.6 221.5,61.2 222.5,60.9 223.5,60.5 224.5,60.2 225.5,59.9 226.5,59.6 227.5,59.3 228.5,59.1 229.5,58.8 230.5,58.6 231.5,58.4 232.5,58.1 233.5,57.9 234.5,57.7 235.5,57.5 236.5,57.2 237.5,57.0 238.5,56.7 239.5,56.5 240.5,56.2 241.5,55.9 242.5,55.7 243.5,55.4 244.5,55.1 245.5,54.9 246.5,54.6 247.5,54.3 248.5,54.0 249.5,53.8 250.5,53.5 251.5,53.2 252.5,52.9 253.5,52.7 254.5,52.4 255.5,52.2 256.5,51.9 257.5,51.7 258.5,51.4 259.5,51.2 260.5,51.0 261.5,50.8 262.5,50.6 263.5,50.4 264.5,50.2 265.5,50.0 266.5,49.8 267.5,49.6 268.5,49.4 269.5,49.2 270.5,49.1 271.5,48.9 272.5,48.7 273.5,48.5 274.5,48.4 275.5,48.2 276.5,48.0 277.5,47.9 278.5,47.7 279.5,47.6 280.5,47.4 281.5,47.3 282.5,47.1 283.5,47.0 284.5,46.8 285.5,46.7 286.5,46.6 287.5,46.4 288.5,46.3 289.5,46.1 290.5,46.0 291.5,45.9 292.5,45.8 293.5,45.6 294.5,45.5 295.5,45.4 296.5,45.2 297.5,45.1 298.5,45.0 299.5,44.9 300.5,44.7 301.5,44.6 302.5,44.5 303.5,44.4 304.5,44.2 305.5,44.1 306.5,44.0 307.5,43.8 308.5,43.7 309.5,43.6 310.5,43.4 311.5,43.3 312.5,43.2 313.5,43.1 314.5,42.9 315.5,42.8 316.5,42.7 317.5,42.6 318.5,42.4 319.5,42.3 320.5,42.2 321.5,42.1 322.5,42.0 323.5,41.9 324.5,41.8 325.5,41.7 326.5,41.6 327.5,41.5 328.5,41.4 329.5,41.3 330.5,41.3 331.5,41.2 332.5,41.1 333.5,41.1 334.5,41.0 335.5,40.9 336.5,40.9 337.5,40.8 338.5,40.7 339.5,40.7 340.5,40.6 341.5,40.6 342.5,40.5 343.5,40.5 344.5,40.4 345.5,40.4 346.5,40.3 347.5,40.3 348.5,40.2 349.5,40.2 350.5,40.1 351.5,40.1 352.5,40.0 353.5,40.0 354.5,39.9 355.5,39.9 356.5,39.9 357.5,39.8 358.5,39.8 359.5,39.7 360.5,39.7 361.5,39.7 362.5,39.6 363.5,39.6 364.5,39.5 365.5,39.5" clip-path="url(#c)"/>
<path d="M64.0,212.9 65.0,211.6 66.0,210.3 67.0,209.1 68.0,207.8 69.0,206.6 70.0,205.3 71.0,204.1 72.0,202.8 73.0,201.6 74.0,200.3 75.0,199.0 76.0,197.8 77.0,196.5 78.0,195.3 79.0,194.0 80.0,192.8 81.0,191.5 82.0,190.3 83.0,189.0 84.0,187.7 85.0,186.5 86.0,185.2 87.0,184.0 88.0,182.7 89.0,181.5 90.0,180.2 91.0,179.0 92.0,177.7 93.0,176.4 94.0,175.2 95.0,173.9 96.0,172.7 97.0,171.4 98.0,170.2 99.0,168.9 100.0,167.7 101.0,166.4 102.0,165.2 103.0,163.9 104.0,162.6 105.0,161.4 106.0,160.1 107.0,158.9 108.0,157.6 109.0,156.4 110.0,155.1 111.0,153.9 112.0,152.6 113.0,151.3 114.0,150.1 115.0,148.8 116.0,147.6 117.0,146.3 118.0,145.1 119.0,143.8 120.0,142.6 121.0,141.3 122.0,140.1 123.0,138.8 124.0,137.5 125.0,136.3 126.0,135.0 127.0,133.8 128.0,132.5 129.0,131.2 130.0,130.0 131.0,128.7 132.0,127.4 133.0,126.2 134.0,124.9 135.0,123.6 136.0,122.4 137.0,121.1 138.0,119.9 139.0,118.7 140.0,117.5 141.0,116.2 142.0,115.0 143.0,113.8 144.0,112.6 145.0,111.4 146.0,110.2 147.0,109.0 148.0,107.8 149.0,106.6 150.0,105.4 151.0,104.2 152.0,103.1 153.0,101.9 154.0,100.8 155.0,99.7 156.0,98.6 157.0,97.5 158.0,96.4 159.0,95.4 160.0,94.3 161.0,93.3 162.0,92.3 163.0,91.3 164.0,90.3 165.0,89.3 166.0,88.4 167.0,87.4 168.0,86.5 169.0,85.6 170.0,84.7 171.0,83.9 172.0,83.0 173.0,82.1 174.0,81.3 175.0,80.4 176.0,79.6 177.0,78.7 178.0,77.9 179.0,77.1 180.0,76.4 181.0,75.6 182.0,74.9 183.0,74.2 184.0,73.5 185.0,72.9 186.0,72.3 187.0,71.7 188.0,71.1 189.0,70.5 190.0,70.0 191.0,69.5 192.0,69.0 193.0,68.4 194.0,68.0 195.0,67.5 196.0,67.0 197.0,66.6 198.0,66.1 199.0,65.7 200.0,65.3 201.0,64.9 202.0,64.5 203.0,64.1 204.0,63.7 205.0,63.4 206.0,63.0 207.0,62.7 208.0,62.3 209.0,62.0 210.0,61.6 211.0,61.3 212.0,61.0 213.0,60.7 214.0,60.3 215.0,60.0 216.0,59.7 217.0,59.3 218.0,59.0 219.0,58.7 220.0,58.4 221.0,58.1 222.0,57.8 223.0,57.5 224.0,57.2 225.0,56.9 226.0,56.6 227.0,56.4 228.0,56.1 229.0,55.9 230.0,55.6 231.0,55.4 232.0,55.1 233.0,54.9 234.0,54.7 235.0,54.4 236.0,54.2 237.0,54.0 238.0,53.8 239.0,53.6 240.0,53.4 241.0,53.1 242.0,52.9 243.0,52.7 244.0,52.5 245.0,52.3 246.0,52.1 247.0,51.9 248.0,51.7 249.0,51.5 250.0,51.3 251.0,51.1 252.0,50.9 253.0,50.7 254.0,50.6 255.0,50.4 256.0,50.2 257.0,50.0 258.0,49.8 259.0,49.6 260.0,49.5 261.0,49.3 262.0,49.1 263.0,48.9 264.0,48.7 265.0,48.6 266.0,48.4 267.0,48.2 268.0,48.1 269.0,47.9 270.0,47.7 271.0,47.6 272.0,47.4 273.0,47.2 274.0,47.1 275.0,46.9 276.0,46.8 277.0,46.6 278.0,46.5 279.0,46.4 280.0,46.2 281.0,46.1 282.0,46.0 283.0,45.8 284.0,45.7 285.0,45.6 286.0,45.5 287.0,45.4 288.0,45.3 289.0,45.2 290.0,45.1 291.0,45.0 292.0,44.9 293.0,44.8 294.0,44.7 295.0,44.6 296.0,44.5 297.0,44.4 298.0,44.3 299.0,44.2 300.0,44.1 301.0,44.0 302.0,43.8 303.0,43.7 304.0,43.6 305.0,43.5 306.0,43.4 307.0,43.3 308.0,43.1 309.0,43.0 310.0,42.9 311.0,42.8 312.0,42.7 313.0,42.5 314.0,42.4 315.0,42.3 316.0,42.2 317.0,42.1 318.0,42.0 319.0,41.8 320.0,41.7 321.0,41.6 322.0,41.5 323.0,41.4 324.0,41.3 325.0,41.2 326.0,41.1 327.0,41.1 328.0,41.0 329.0,40.9 330.0,40.8 331.0,40.8 332.0,40.7 333.0,40.6 334.0,40.6 335.0,40.5 336.0,40.5 337.0,40.4 338.0,40.3 339.0,40.3 340.0,40.2 341.0,40.2 342.0,40.2 343.0,40.1 344.0,40.1 345.0,40.0 346.0,39.9 347.0,39.9 348.0,39.8 349.0,39.8 350.0,39.7 351.0,39.7 352.0,39.6 353.0,39.6 354.0,39.5 355.0,39.5 356.0,39.5 357.0,39.4 358.0,39.4 359.0,39.3 360.0,39.3 361.0,39.2 362.0,39.2 363.0,39.1 364.0,39.1 365.0,39.0" clip-path="url(#c)"/>
</g>
<path d="M198.6,138.2H75" stroke="#0a0a0a" stroke-width="1.3" fill="none"/>
<path d="M68.9,138.2L77.6,135.8L76.2,138.2L77.6,140.6Z" fill="#0a0a0a"/>
<path d="M257.4,199.1H278.3" stroke="#111" stroke-width="1.3"/>
<circle cx="267.9" cy="212.1" r="3.85" fill="#0000d2"/>
</svg>
<div class="t yt" style="top:10.5px">10<sup>-2</sup></div>
<div class="t yt" style="top:33.9px">10<sup>-3</sup></div>
<div class="t yt" style="top:57.3px">10<sup>-4</sup></div>
<div class="t yt" style="top:80.7px">10<sup>-5</sup></div>
<div class="t yt" style="top:104.1px">10<sup>-6</sup></div>
<div class="t yt" style="top:127.5px">10<sup>-7</sup></div>
<div class="t yt" style="top:150.9px">10<sup>-8</sup></div>
<div class="t yt" style="top:174.3px">10<sup>-9</sup></div>
<div class="t yt" style="top:197.7px">10<sup>-10</sup></div>
<div class="t yt" style="top:221.2px">10<sup>-11</sup></div>
<div class="t xt" style="left:45.2px">0.1</div>
<div class="t xt" style="left:78.6px">0.2</div>
<div class="t xt" style="left:112.0px">0.3</div>
<div class="t xt" style="left:145.4px">0.4</div>
<div class="t xt" style="left:178.8px">0.5</div>
<div class="t xt" style="left:212.2px">0.6</div>
<div class="t xt" style="left:245.6px">0.7</div>
<div class="t xt" style="left:279.0px">0.8</div>
<div class="t xt" style="left:312.4px">0.9</div>
<div class="t xt" style="left:345.8px">1</div>
<div class="t" style="font-weight:bold;font-size:13px;left:194px;top:246.4px">V<sub class="s" style="font-size:9.6px;top:2.8px">GS</sub> [V]</div>
<div class="t" style="font-weight:bold;font-size:13px;left:0;top:0;transform-origin:0 0;transform:translate(13.5px,138.3px) rotate(-90deg)">I<sub class="s" style="font-size:9.5px;top:2.8px;margin-right:0">DS</sub> [A]</div>
<div class="t an" style="top:20.1px">W/L = 1 µm / 28 nm</div>
<div class="t an" style="top:43.4px">V<sub class="s">DS</sub> = 0.9 V</div>
<div class="t an" style="top:65.7px;left:75px;font-size:11.6px">V<sub class="s" style="font-size:8.5px;top:3px">back</sub> = 0 V</div>
<div class="t an" style="top:89.4px;left:74.2px;font-size:11.55px">nMOS</div>
<div class="t" style="font-size:10.7px;left:201.2px;top:131.2px">T [K] = 4.2, 77, 110,</div>
<div class="t" style="font-size:10.95px;left:230.3px;top:143.4px">160, 210, 300</div>
<div class="t" style="font-size:11.65px;left:284.5px;top:193.2px">Model</div>
<div class="t" style="font-size:11.65px;left:284.5px;top:206.2px">Measurements</div>
</body></html>
